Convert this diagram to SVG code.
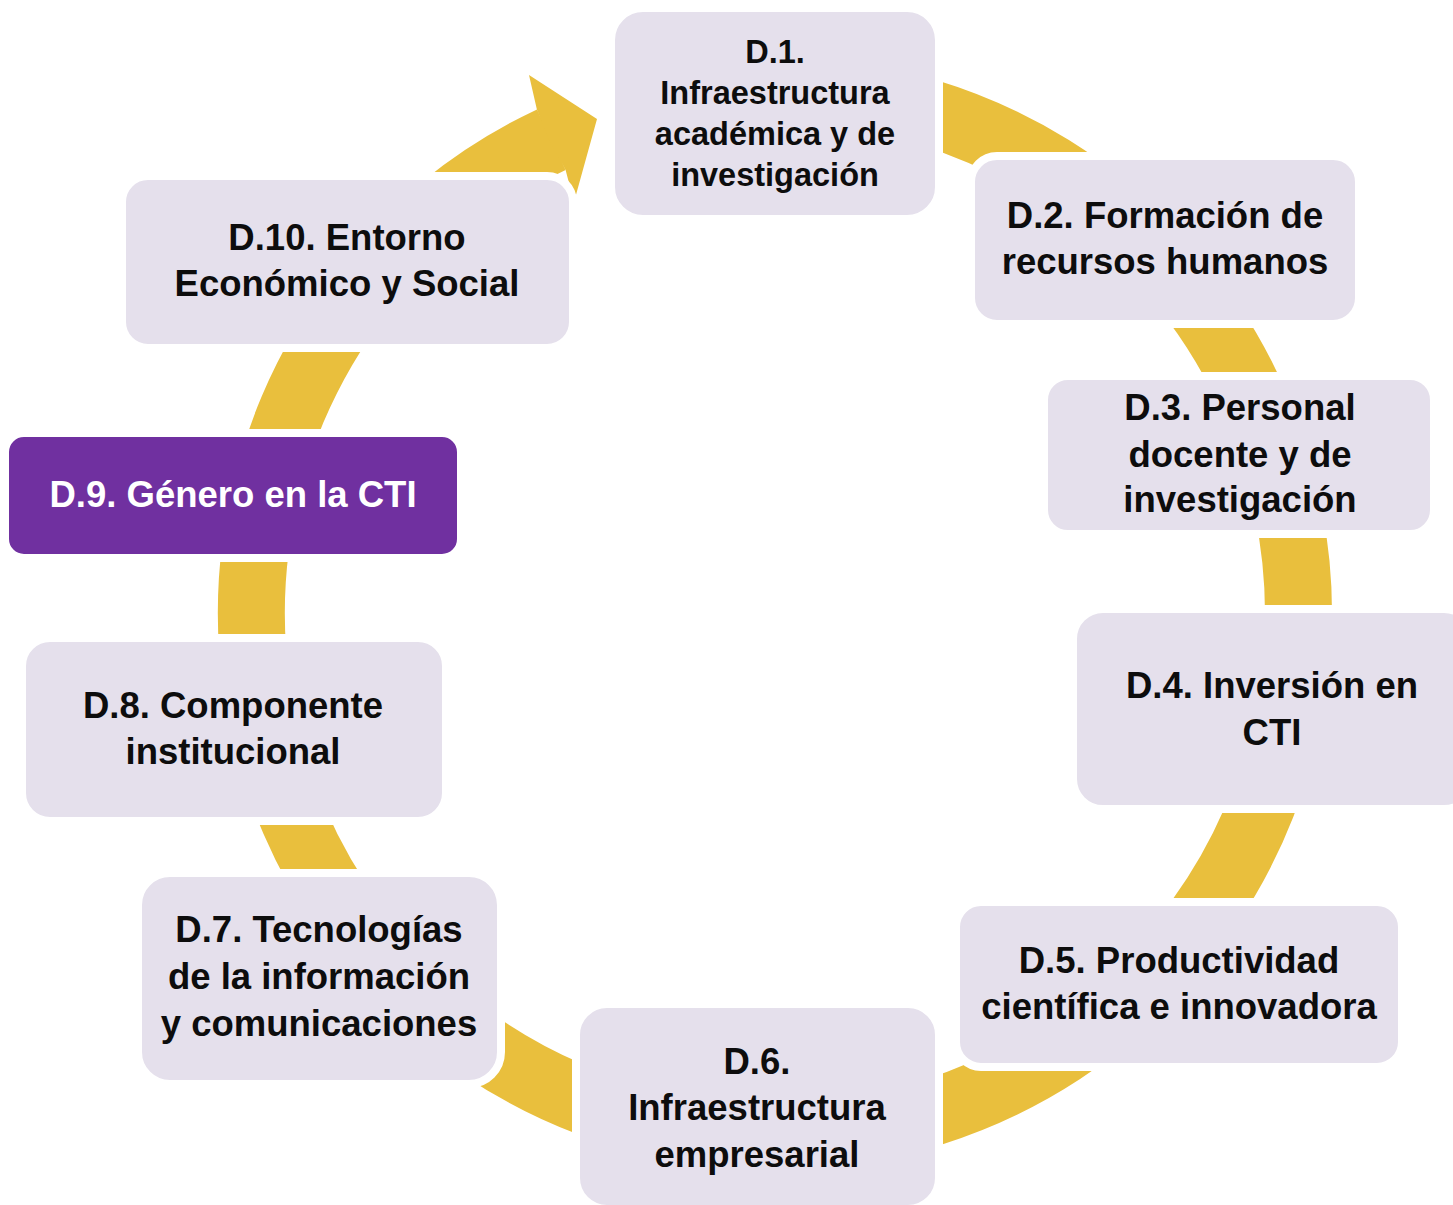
<svg xmlns="http://www.w3.org/2000/svg" width="1453" height="1205" viewBox="0 0 1453 1205">
<style>
.box{fill:#E5E0EC;stroke:#FFFFFF;stroke-width:8}
.hl{fill:#7030A0;stroke:#FFFFFF;stroke-width:8}
text{font-family:"Liberation Sans",Arial,sans-serif;font-weight:bold;font-size:36.5px;fill:#0D0D0D;text-anchor:middle}
.small{font-size:32.5px}
.white{fill:#FFFFFF}
.ring{fill:none;stroke:#E9BF3D;stroke-width:67}
.head{fill:#E9BF3D}
</style>
<g id="connectors">
<path class="ring" d="M 684.1 97.5 A 523.5 523.5 0 1 1 551.3 139.7"/>
<polygon class="head" points="536.9,109.4 529,75 597,119 574,202 565.6,170 549,140"/>
</g>
<g id="d1">
<rect class="box" x="611" y="8" width="328" height="211" rx="32"/>
<text class="small" x="775" y="63">D.1.</text>
<text class="small" x="775" y="104">Infraestructura</text>
<text class="small" x="775" y="145">académica y de</text>
<text class="small" x="775" y="186">investigación</text>
</g>
<g id="d2">
<rect class="box" x="971" y="156" width="388" height="168" rx="26"/>
<text x="1165" y="228">D.2. Formación de</text>
<text x="1165" y="274">recursos humanos</text>
</g>
<g id="d3">
<rect class="box" x="1044" y="376" width="390" height="158" rx="24"/>
<text x="1240" y="420">D.3. Personal</text>
<text x="1240" y="467">docente y de</text>
<text x="1240" y="512">investigación</text>
</g>
<g id="d4">
<rect class="box" x="1073" y="609" width="401" height="200" rx="30"/>
<text x="1272" y="698">D.4. Inversión en</text>
<text x="1272" y="745">CTI</text>
</g>
<g id="d5">
<rect class="box" x="956" y="902" width="446" height="165" rx="25"/>
<text x="1179" y="973">D.5. Productividad</text>
<text x="1179" y="1019">científica e innovadora</text>
</g>
<g id="d6">
<rect class="box" x="576" y="1004" width="363" height="205" rx="31"/>
<text x="757" y="1074">D.6.</text>
<text x="757" y="1120">Infraestructura</text>
<text x="757" y="1167">empresarial</text>
</g>
<g id="d7">
<rect class="box" x="138" y="873" width="363" height="211" rx="32"/>
<text x="319" y="942">D.7. Tecnologías</text>
<text x="319" y="989">de la información</text>
<text x="319" y="1036">y comunicaciones</text>
</g>
<g id="d8">
<rect class="box" x="22" y="638" width="424" height="183" rx="28"/>
<text x="233" y="718">D.8. Componente</text>
<text x="233" y="764">institucional</text>
</g>
<g id="d9">
<rect class="hl" x="5" y="433" width="456" height="125" rx="19"/>
<text class="white" x="233" y="507">D.9. Género en la CTI</text>
</g>
<g id="d10">
<rect class="box" x="122" y="176" width="451" height="172" rx="26"/>
<text x="347" y="250">D.10. Entorno</text>
<text x="347" y="296">Económico y Social</text>
</g>
</svg>
